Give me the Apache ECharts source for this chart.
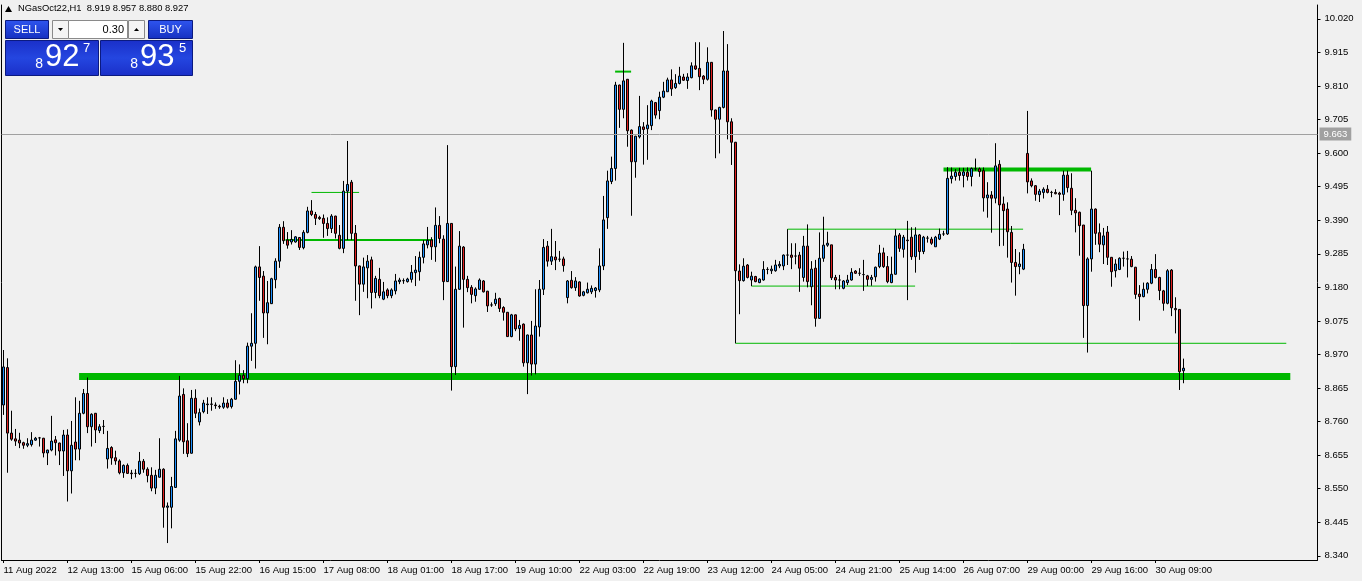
<!DOCTYPE html>
<html><head><meta charset="utf-8">
<script src="https://cdn.jsdelivr.net/npm/echarts@6/dist/echarts.min.js"></script>
<style>html,body{margin:0;padding:0;background:#F0F0F0;overflow:hidden}#c{width:1362px;height:581px}</style>
</head><body><div id="c"></div>
<script>
// ---------- data ----------
const symbolName = 'NGasOct22,H1';
const lastOHLC = [8.919, 8.957, 8.880, 8.927];
const timeLabels = ['11 Aug 2022','12 Aug 13:00','15 Aug 06:00','15 Aug 22:00','16 Aug 15:00','17 Aug 08:00','18 Aug 01:00','18 Aug 17:00','19 Aug 10:00','22 Aug 03:00','22 Aug 19:00','23 Aug 12:00','24 Aug 05:00','24 Aug 21:00','25 Aug 14:00','26 Aug 07:00','29 Aug 00:00','29 Aug 16:00','30 Aug 09:00'];
const barsPerLabel = 16;
const slotCount = 329; // bars + empty space to the right
const priceTicks = [8.340,8.445,8.550,8.655,8.760,8.865,8.970,9.075,9.180,9.285,9.390,9.495,9.600,9.705,9.810,9.915,10.020];
const askLevel = 9.663;
const bidLevel = 8.927;
// [open, close, low, high]
const candles = [
[8.812,8.931,8.781,8.984],[8.929,8.724,8.600,8.958],[8.724,8.705,8.700,8.794],[8.706,8.699,8.684,8.737],[8.702,8.693,8.677,8.725],
[8.694,8.686,8.675,8.697],[8.686,8.691,8.680,8.708],[8.688,8.702,8.682,8.727],[8.702,8.708,8.700,8.712],[8.709,8.709,8.682,8.712],
[8.708,8.662,8.648,8.709],[8.662,8.671,8.624,8.672],[8.671,8.699,8.667,8.778],[8.703,8.694,8.654,8.715],[8.693,8.668,8.624,8.694],
[8.668,8.718,8.590,8.734],[8.718,8.606,8.510,8.736],[8.606,8.686,8.535,8.762],[8.696,8.674,8.639,8.836],[8.674,8.786,8.639,8.825],
[8.786,8.848,8.783,8.862],[8.848,8.744,8.724,8.898],[8.744,8.783,8.682,8.786],[8.786,8.734,8.693,8.787],[8.732,8.744,8.724,8.752],
[8.745,8.745,8.721,8.765],[8.643,8.676,8.613,8.731],[8.679,8.646,8.625,8.683],[8.647,8.637,8.625,8.669],[8.637,8.600,8.595,8.642],
[8.600,8.623,8.584,8.626],[8.623,8.598,8.596,8.629],[8.599,8.597,8.580,8.609],[8.598,8.598,8.585,8.611],[8.597,8.636,8.593,8.665],
[8.636,8.611,8.600,8.643],[8.611,8.591,8.570,8.617],[8.592,8.552,8.542,8.617],[8.552,8.592,8.533,8.609],[8.586,8.611,8.585,8.708],
[8.611,8.492,8.428,8.614],[8.492,8.496,8.380,8.507],[8.492,8.557,8.426,8.587],[8.554,8.706,8.553,8.731],[8.702,8.840,8.697,8.903],
[8.845,8.697,8.659,8.864],[8.700,8.660,8.649,8.755],[8.661,8.833,8.660,8.859],[8.833,8.786,8.771,8.861],[8.759,8.788,8.748,8.801],
[8.791,8.818,8.786,8.828],[8.813,8.815,8.784,8.836],[8.815,8.814,8.794,8.836],[8.812,8.810,8.800,8.820],[8.808,8.806,8.800,8.813],
[8.805,8.818,8.800,8.836],[8.818,8.805,8.801,8.830],[8.807,8.830,8.801,8.834],[8.830,8.886,8.829,8.952],[8.886,8.905,8.845,8.939],
[8.905,8.894,8.880,8.921],[8.894,8.996,8.880,9.007],[8.996,9.005,8.950,9.099],[9.005,9.244,8.926,9.248],[9.244,9.211,9.138,9.309],
[9.215,9.100,9.022,9.231],[9.100,9.132,9.002,9.200],[9.129,9.207,9.128,9.210],[9.204,9.262,9.177,9.271],[9.262,9.368,9.241,9.378],
[9.368,9.326,9.316,9.387],[9.328,9.312,9.301,9.353],[9.322,9.330,9.314,9.359],[9.322,9.338,9.320,9.340],[9.336,9.305,9.297,9.337],
[9.304,9.352,9.299,9.359],[9.352,9.419,9.349,9.432],[9.419,9.408,9.403,9.453],[9.408,9.396,9.375,9.416],[9.399,9.395,9.391,9.404],
[9.396,9.380,9.335,9.408],[9.380,9.364,9.341,9.399],[9.364,9.403,9.350,9.409],[9.403,9.349,9.333,9.404],[9.343,9.302,9.299,9.375],
[9.302,9.481,9.287,9.513],[9.481,9.502,9.328,9.638],[9.509,9.349,9.328,9.516],[9.349,9.247,9.138,9.375],[9.247,9.190,9.093,9.248],
[9.190,9.244,9.166,9.273],[9.241,9.262,9.146,9.281],[9.266,9.164,9.114,9.276],[9.164,9.208,9.146,9.216],[9.205,9.154,9.146,9.241],
[9.143,9.166,9.140,9.197],[9.172,9.154,9.146,9.177],[9.154,9.172,9.146,9.177],[9.169,9.200,9.158,9.222],[9.198,9.203,9.190,9.210],
[9.201,9.201,9.191,9.208],[9.198,9.206,9.195,9.210],[9.205,9.227,9.195,9.250],[9.226,9.234,9.184,9.278],[9.229,9.274,9.201,9.292],
[9.274,9.316,9.255,9.328],[9.313,9.327,9.302,9.369],[9.328,9.307,9.266,9.337],[9.307,9.374,9.260,9.430],[9.374,9.333,9.318,9.403],
[9.331,9.198,9.140,9.343],[9.198,9.380,9.197,9.625],[9.380,8.932,8.857,9.381],[8.932,9.174,8.906,9.245],[9.174,9.309,9.172,9.356],
[9.306,9.205,9.054,9.309],[9.205,9.179,9.165,9.216],[9.180,9.158,9.130,9.187],[9.154,9.175,9.135,9.180],[9.174,9.203,9.172,9.208],
[9.200,9.166,9.164,9.203],[9.168,9.122,9.103,9.169],[9.125,9.125,9.119,9.133],[9.129,9.143,9.122,9.163],[9.145,9.114,9.103,9.148],
[9.117,9.102,9.076,9.121],[9.102,9.026,9.025,9.103],[9.026,9.094,9.024,9.097],[9.094,9.050,9.043,9.095],[9.051,9.061,9.013,9.078],
[9.065,8.944,8.932,9.067],[8.944,9.031,8.846,9.032],[9.031,8.940,8.904,9.075],[8.940,9.059,8.908,9.174],[9.056,9.174,9.026,9.203],
[9.174,9.305,9.156,9.331],[9.309,9.262,9.245,9.325],[9.262,9.276,9.250,9.363],[9.275,9.266,9.234,9.325],[9.268,9.268,9.260,9.294],
[9.269,9.248,9.229,9.276],[9.148,9.200,9.130,9.203],[9.202,9.179,9.176,9.231],[9.179,9.200,9.169,9.212],[9.197,9.153,9.151,9.199],
[9.155,9.166,9.152,9.169],[9.163,9.174,9.161,9.195],[9.166,9.177,9.159,9.186],[9.170,9.178,9.148,9.181],[9.172,9.247,9.165,9.302],
[9.247,9.391,9.234,9.466],[9.398,9.513,9.363,9.545],[9.511,9.552,9.503,9.589],[9.552,9.813,9.514,9.823],[9.813,9.737,9.679,9.814],
[9.737,9.826,9.709,9.945],[9.831,9.670,9.620,9.832],[9.672,9.573,9.404,9.674],[9.573,9.653,9.523,9.654],[9.651,9.683,9.646,9.779],
[9.682,9.674,9.564,9.697],[9.676,9.688,9.579,9.750],[9.686,9.763,9.672,9.767],[9.758,9.719,9.708,9.760],[9.733,9.775,9.706,9.792],
[9.775,9.794,9.772,9.823],[9.792,9.829,9.792,9.836],[9.829,9.801,9.779,9.862],[9.805,9.818,9.801,9.847],[9.818,9.841,9.815,9.870],
[9.838,9.828,9.826,9.848],[9.827,9.838,9.801,9.850],[9.836,9.873,9.834,9.884],[9.873,9.863,9.860,9.947],[9.865,9.839,9.797,9.947],
[9.841,9.831,9.816,9.844],[9.831,9.884,9.827,9.931],[9.884,9.735,9.714,9.885],[9.735,9.706,9.584,9.736],[9.706,9.743,9.599,9.745],
[9.743,9.857,9.740,9.982],[9.857,9.698,9.643,9.941],[9.698,9.634,9.563,9.709],[9.634,9.232,9.005,9.635],[9.231,9.201,9.096,9.252],
[9.201,9.246,9.198,9.271],[9.250,9.211,9.208,9.253],[9.203,9.215,9.184,9.229],[9.214,9.198,9.196,9.216],[9.195,9.206,9.193,9.208],
[9.203,9.236,9.201,9.262],[9.236,9.236,9.221,9.243],[9.232,9.237,9.222,9.248],[9.232,9.250,9.229,9.266],[9.247,9.252,9.240,9.262],
[9.247,9.281,9.234,9.283],[9.281,9.281,9.250,9.362],[9.281,9.274,9.237,9.318],[9.278,9.278,9.252,9.318],[9.281,9.240,9.166,9.291],
[9.211,9.309,9.198,9.341],[9.309,9.198,9.180,9.377],[9.182,9.237,9.124,9.262],[9.240,9.083,9.057,9.266],[9.083,9.271,9.082,9.352],
[9.271,9.312,9.260,9.401],[9.312,9.318,9.307,9.354],[9.313,9.210,9.203,9.313],[9.211,9.203,9.174,9.219],[9.203,9.203,9.174,9.219],
[9.177,9.200,9.174,9.203],[9.195,9.203,9.187,9.219],[9.203,9.227,9.201,9.240],[9.231,9.224,9.222,9.234],[9.224,9.224,9.216,9.240],
[9.220,9.220,9.169,9.266],[9.216,9.205,9.184,9.219],[9.205,9.211,9.185,9.219],[9.213,9.243,9.198,9.245],[9.245,9.287,9.240,9.313],
[9.288,9.245,9.241,9.304],[9.245,9.198,9.193,9.278],[9.195,9.221,9.193,9.276],[9.221,9.341,9.220,9.362],[9.344,9.302,9.291,9.350],
[9.299,9.337,9.273,9.344],[9.328,9.326,9.140,9.388],[9.337,9.276,9.266,9.368],[9.276,9.344,9.226,9.368],[9.344,9.292,9.266,9.347],
[9.292,9.337,9.284,9.341],[9.334,9.334,9.320,9.341],[9.331,9.318,9.313,9.338],[9.307,9.337,9.307,9.341],[9.331,9.346,9.328,9.364],
[9.347,9.347,9.341,9.357],[9.347,9.521,9.344,9.556],[9.520,9.528,9.505,9.555],[9.527,9.540,9.514,9.550],[9.540,9.530,9.514,9.554],
[9.530,9.541,9.493,9.554],[9.540,9.527,9.514,9.555],[9.527,9.552,9.496,9.555],[9.551,9.551,9.545,9.583],[9.551,9.542,9.526,9.555],
[9.545,9.460,9.417,9.555],[9.460,9.469,9.398,9.509],[9.469,9.459,9.351,9.481],[9.459,9.560,9.443,9.631],[9.565,9.438,9.309,9.578],
[9.441,9.420,9.310,9.464],[9.425,9.354,9.273,9.446],[9.352,9.258,9.195,9.372],[9.258,9.245,9.154,9.300],[9.245,9.253,9.221,9.290],
[9.237,9.299,9.234,9.316],[9.599,9.510,9.474,9.732],[9.513,9.498,9.493,9.521],[9.498,9.471,9.451,9.500],[9.470,9.481,9.447,9.488],
[9.477,9.487,9.458,9.493],[9.487,9.477,9.474,9.500],[9.477,9.477,9.462,9.482],[9.477,9.473,9.471,9.487],[9.475,9.471,9.406,9.479],
[9.471,9.531,9.451,9.545],[9.531,9.492,9.477,9.545],[9.490,9.421,9.406,9.537],[9.421,9.413,9.352,9.459],[9.415,9.373,9.279,9.417],
[9.375,9.123,9.022,9.375],[9.123,9.269,8.976,9.274],[9.269,9.425,9.229,9.545],[9.425,9.349,9.313,9.427],[9.351,9.315,9.290,9.380],
[9.313,9.341,9.253,9.366],[9.353,9.274,9.250,9.372],[9.274,9.229,9.182,9.275],[9.232,9.253,9.211,9.268],[9.236,9.271,9.234,9.274],
[9.271,9.271,9.245,9.292],[9.269,9.269,9.211,9.294],[9.268,9.245,9.243,9.278],[9.243,9.158,9.144,9.244],[9.159,9.151,9.076,9.187],
[9.151,9.174,9.149,9.195],[9.174,9.193,9.161,9.196],[9.193,9.236,9.190,9.253],[9.236,9.211,9.208,9.284],[9.211,9.170,9.140,9.213],
[9.169,9.130,9.107,9.172],[9.130,9.232,9.127,9.237],[9.234,9.116,9.090,9.237],[9.114,9.110,9.036,9.149],[9.111,8.916,8.859,9.111],
[8.919,8.927,8.880,8.957]
];
// drawn horizontal levels: price, start bar, end bar
const levelPrice = [8.901, 9.549, 9.328, 9.477, 9.855, 9.184, 9.362, 9.005];
const levelStart = [18.9, 235.0, 70.5, 77.0, 152.9, 187.0, 196.0, 183.0];
const levelEnd   = [321.7, 271.9, 107.4, 88.9, 156.9, 227.9, 254.9, 320.7];
const levelWidth = [7, 4, 2, 1, 2, 1, 1, 1];
// trade panel values
const sellBig = '92', sellPre = '8', sellSup = '7';
const buyBig = '93', buyPre = '8', buySup = '5';
const lotSize = '0.30';

// ---------- chart ----------
const chart = echarts.init(document.getElementById('c'));
const cats = Array.from({length: slotCount}, (_, i) => String(i));
const FONT = 'Liberation Sans';
const green = '#00B800';

const levelSeries = levelPrice.map((p, k) => ({
  type: 'line', xAxisIndex: 1, yAxisIndex: 0, silent: true, symbol: 'none', z: 3,
  data: [[levelStart[k], p], [levelEnd[k], p]],
  lineStyle: {color: green, width: levelWidth[k], cap: 'butt'}, animation: false
}));

const panelBlue = new echarts.graphic.LinearGradient(0,0,0,1,[{offset:0,color:'#2F55F0'},{offset:1,color:'#1530C0'}]);
const boxBlue = new echarts.graphic.LinearGradient(0,0,0,1,[{offset:0,color:'#1A2FC8'},{offset:0.5,color:'#2446E0'},{offset:1,color:'#1A2FC8'}]);
const showLabel = (i) => i % barsPerLabel === 0 && i / barsPerLabel < timeLabels.length;

chart.setOption({
  animation: false,
  backgroundColor: '#F0F0F0',
  grid: {left: 1.5, right: 44.5, top: 5, bottom: 21, show: false},
  xAxis: [{
    type: 'category', data: cats, boundaryGap: true,
    axisLine: {show: true, onZero: false, lineStyle: {color: '#000', width: 1}},
    axisTick: {show: true, length: 3, lineStyle: {color: '#000'}, interval: showLabel, alignWithLabel: true},
    axisLabel: {show: true, interval: showLabel,
      formatter: (v, i) => timeLabels[i / barsPerLabel] || '', align: 'left', margin: 5,
      color: '#000', fontFamily: FONT, fontSize: 9.5},
    splitLine: {show: false}
  }, {
    type: 'value', min: -0.5, max: slotCount - 0.5, show: false
  }],
  yAxis: [{
    type: 'value', position: 'right', min: 8.327, max: 10.0634,
    axisLine: {show: true, onZero: false, lineStyle: {color: '#000'}},
    axisTick: {show: true, length: 3, inside: false, customValues: priceTicks, lineStyle: {color: '#000'}},
    axisLabel: {show: true, customValues: priceTicks, formatter: (v) => v.toFixed(3), margin: 7,
      color: '#000', fontFamily: FONT, fontSize: 9.5, align: 'left'},
    splitLine: {show: false}
  }, {
    type: 'value', position: 'left', min: 8.327, max: 10.0634,
    axisLine: {show: true, onZero: false, lineStyle: {color: '#000'}},
    axisTick: {show: false}, axisLabel: {show: false}, splitLine: {show: false}
  }],
  series: [{
    type: 'candlestick', xAxisIndex: 0, yAxisIndex: 0, data: candles, barWidth: 3, z: 4,
    itemStyle: {color: '#1E90FF', color0: '#E02020', borderColor: '#000', borderColor0: '#000', borderWidth: 1},
    markLine: {
      symbol: 'none', silent: true, animation: false,
      data: [
        {yAxis: askLevel, lineStyle: {color: '#A0A0A0', width: 1, type: 'solid'},
          label: {show: true, position: 'end', formatter: askLevel.toFixed(3), color: '#fff', backgroundColor: '#A0A0A0',
            padding: [2, 4, 1, 4], fontFamily: FONT, fontSize: 9.5, distance: 2}},
        {yAxis: bidLevel, lineStyle: {opacity: 0},
          label: {show: true, position: 'end', formatter: bidLevel.toFixed(3), color: '#fff', backgroundColor: '#000',
            padding: [2, 4, 1, 4], fontFamily: FONT, fontSize: 9.5, distance: 2}}
      ]
    }
  }].concat(levelSeries),
  graphic: [
    {type: 'polygon', shape: {points: [[5, 12], [8.5, 6], [12, 12]]}, style: {fill: '#000'}, z: 10},
    {type: 'text', x: 18, y: 4, z: 10, style: {text: symbolName + '  ' + lastOHLC.map(v => v.toFixed(3)).join(' '), font: '9.4px ' + FONT, fill: '#000'}},
    // top row
    {type: 'rect', shape: {x: 5.5, y: 20.5, width: 43, height: 18}, style: {fill: panelBlue, stroke: '#0B1A80'}, z: 10},
    {type: 'text', x: 27, y: 29.5, z: 11, style: {text: 'SELL', font: '11px ' + FONT, fill: '#fff', align: 'center', verticalAlign: 'middle'}},
    {type: 'rect', shape: {x: 52.5, y: 20.5, width: 16, height: 18}, style: {fill: '#F4F4F4', stroke: '#8A8A8A'}, z: 10},
    {type: 'polygon', shape: {points: [[58, 28], [63, 28], [60.5, 31]]}, style: {fill: '#000'}, z: 11},
    {type: 'rect', shape: {x: 68.5, y: 20.5, width: 59, height: 18}, style: {fill: '#fff', stroke: '#8A8A8A'}, z: 10},
    {type: 'text', x: 124, y: 29.5, z: 11, style: {text: lotSize, font: '11px ' + FONT, fill: '#000', align: 'right', verticalAlign: 'middle'}},
    {type: 'rect', shape: {x: 128.5, y: 20.5, width: 16, height: 18}, style: {fill: '#F4F4F4', stroke: '#8A8A8A'}, z: 10},
    {type: 'polygon', shape: {points: [[134, 31], [139, 31], [136.5, 28]]}, style: {fill: '#000'}, z: 11},
    {type: 'rect', shape: {x: 148.5, y: 20.5, width: 44, height: 18}, style: {fill: panelBlue, stroke: '#0B1A80'}, z: 10},
    {type: 'text', x: 170.5, y: 29.5, z: 11, style: {text: 'BUY', font: '11px ' + FONT, fill: '#fff', align: 'center', verticalAlign: 'middle'}},
    // price boxes
    {type: 'rect', shape: {x: 5.5, y: 40.5, width: 93, height: 35}, style: {fill: boxBlue, stroke: '#0B1A80'}, z: 10},
    {type: 'rect', shape: {x: 100.5, y: 40.5, width: 92, height: 35}, style: {fill: boxBlue, stroke: '#0B1A80'}, z: 10},
    {type: 'text', x: 43, y: 71, z: 11, style: {text: sellPre, font: '14px ' + FONT, fill: '#fff', align: 'right', verticalAlign: 'bottom'}},
    {type: 'text', x: 45, y: 73, z: 11, style: {text: sellBig, font: '31px ' + FONT, fill: '#fff', align: 'left', verticalAlign: 'bottom'}},
    {type: 'text', x: 83, y: 42, z: 11, style: {text: sellSup, font: '13px ' + FONT, fill: '#fff', align: 'left', verticalAlign: 'top'}},
    {type: 'text', x: 138, y: 71, z: 11, style: {text: buyPre, font: '14px ' + FONT, fill: '#fff', align: 'right', verticalAlign: 'bottom'}},
    {type: 'text', x: 140, y: 73, z: 11, style: {text: buyBig, font: '31px ' + FONT, fill: '#fff', align: 'left', verticalAlign: 'bottom'}},
    {type: 'text', x: 179, y: 42, z: 11, style: {text: buySup, font: '13px ' + FONT, fill: '#fff', align: 'left', verticalAlign: 'top'}}
  ]
});
</script>
</body></html>
